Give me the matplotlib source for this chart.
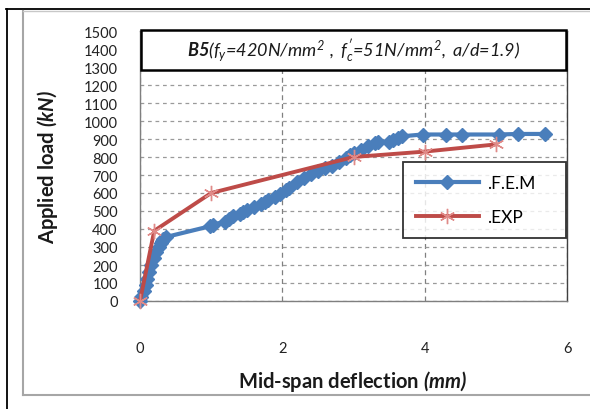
import matplotlib
matplotlib.use("Agg")
import matplotlib.pyplot as plt
from matplotlib.lines import Line2D
from matplotlib.patches import Rectangle

plt.rcParams['font.family'] = ['Lato', 'DejaVu Sans']
plt.rcParams['mathtext.fontset'] = 'custom'
plt.rcParams['mathtext.rm'] = 'Lato:italic'
plt.rcParams['mathtext.it'] = 'Lato:italic'
plt.rcParams['mathtext.bf'] = 'Lato:bold:italic'

# ---- data ----
fem_x = [0, 0.02, 0.05, 0.08, 0.10, 0.13, 0.16, 0.20, 0.23, 0.26, 0.29, 0.31, 0.33, 0.36,
         0.98, 1.02, 1.20, 1.25, 1.30, 1.40, 1.45, 1.50, 1.60, 1.70, 1.75, 1.80, 1.90, 1.97,
         2.05, 2.10, 2.20, 2.30, 2.40, 2.50, 2.60, 2.70, 2.80, 2.90, 2.95, 3.00, 3.10, 3.20,
         3.30, 3.35, 3.50, 3.56, 3.62, 3.68, 3.97, 4.30, 4.53, 5.04, 5.31, 5.69]
fem_y = [0, 25, 55, 90, 120, 160, 200, 240, 270, 300, 320, 335, 345, 355,
         415, 425, 440, 455, 470, 485, 492, 505, 525, 540, 550, 560, 580, 594,
         615, 630, 660, 685, 705, 725, 740, 748, 770, 795, 810, 820, 840, 860,
         880, 885, 885, 895, 905, 915, 925, 925, 925, 925, 928, 928]
exp_x = [0, 0.2, 1.0, 3.0, 4.0, 5.0]
exp_y = [0, 390, 600, 800, 830, 870]

xticks = [0, 2, 4, 6]
yticks = list(range(0, 1600, 100))
fem_label = ".F.E.M"
exp_label = ".EXP"
title_txt = (r"$\mathbf{B5}$" +
             r"$\mathit{(f_y\text{=}420N/mm^2\ ,\ f_c'\text{=}51N/mm^2,\ a/d\text{=}1.9)}$")

W, H = 590, 410
fig = plt.figure(figsize=(W / 100, H / 100), dpi=100)
fig.patch.set_facecolor('white')

# page frames
fig.add_artist(Line2D([6 / W, 1], [1 - 9.5 / H, 1 - 9.5 / H], color='black', lw=1.3))
fig.add_artist(Line2D([7 / W, 7 / W], [0, 1 - 9.5 / H], color='black', lw=1.3))
fig.add_artist(Line2D([22.5 / W, 22.5 / W], [1 - 396 / H, 1 - 12 / H], color='#a6a6a6', lw=1.5))
fig.add_artist(Line2D([22.5 / W, 1], [1 - 12 / H, 1 - 12 / H], color='#c8c8c8', lw=1.0))
fig.add_artist(Line2D([22.5 / W, 1], [1 - 396 / H, 1 - 396 / H], color='#a6a6a6', lw=1.5))

x0, x1, yb, yt = 140, 567, 302, 32
ax = fig.add_axes([x0 / W, 1 - yb / H, (x1 - x0) / W, (yb - yt) / H])
ax.set_xlim(0, 6)
ax.set_ylim(0, 1500)
ax.set_xticks(xticks)
ax.set_yticks(yticks)
ax.tick_params(axis='both', length=0, labelsize=10.5, colors='#222222')
ax.tick_params(axis='x', pad=29)
ax.tick_params(axis='y', pad=16)
for s in ax.spines.values():
    s.set_color('#7f7f7f')
    s.set_linewidth(1.0)
ax.spines['right'].set_color('#404040')

ax.grid(True, axis='y', linestyle=(0, (3, 3)), color='#9a9a9a', lw=0.9)
ax.grid(True, axis='x', linestyle=(0, (4, 3)), color='#808080', lw=0.9)
ax.set_axisbelow(True)

ax.plot(fem_x, fem_y, color='#4a7ebb', lw=3.0, marker='D', markersize=7.5,
        markeredgecolor='#4a7ebb', label=fem_label, zorder=3, clip_on=False)
ax.plot(exp_x, exp_y, color='#be4b48', lw=2.8, marker=(6, 2, 0), markersize=11,
        markeredgecolor='#e08a88', markeredgewidth=1.0, label=exp_label, zorder=4,
        clip_on=False)

# title box
bx0 = (141 - x0) / (x1 - x0)
bx1 = (566 - x0) / (x1 - x0)
by0 = (yb - 71) / (yb - yt)
by1 = (yb - 31) / (yb - yt)
ax.add_patch(Rectangle((bx0, by0), bx1 - bx0, by1 - by0, transform=ax.transAxes,
                       facecolor='white', edgecolor='black', lw=1.8, zorder=6,
                       clip_on=False))
ax.text((bx0 + bx1) / 2, (by0 + by1) / 2, title_txt, transform=ax.transAxes,
        ha='center', va='center', fontsize=13, zorder=7, color='#1a1a1a')

leg = ax.legend(loc='upper left',
                bbox_to_anchor=((403 - x0) / (x1 - x0), (yb - 163) / (yb - yt),
                                (566 - 403) / (x1 - x0), 0.0),
                mode='expand', fontsize=12.5, frameon=True, fancybox=False,
                edgecolor='black', borderpad=0.75, labelspacing=1.05,
                handlelength=3.6, handletextpad=0.5, borderaxespad=0.0)
leg.get_frame().set_linewidth(1.3)
leg.set_zorder(8)

fig.text(48 / W, 1 - 167 / H, "Applied load " + r"$\mathbf{(kN)}$", rotation=90,
         ha='center', va='center', fontsize=14.5, fontweight='bold', color='#1a1a1a')
fig.text(353 / W, 1 - 382 / H, "Mid-span deflection " + r"$\mathbf{(mm)}$",
         ha='center', va='center', fontsize=14.5, fontweight='bold', color='#1a1a1a')

fig.savefig("out.png", dpi=100)
